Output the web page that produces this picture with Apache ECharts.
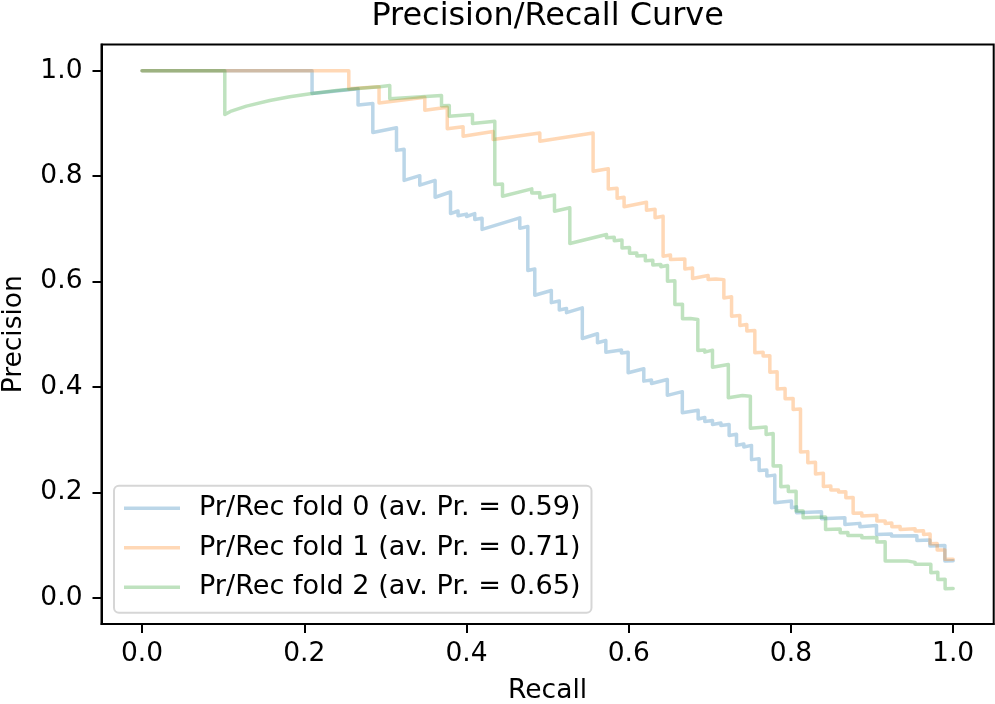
<!DOCTYPE html>
<html><head><meta charset="utf-8">
<script src="https://cdn.jsdelivr.net/npm/echarts@6/dist/echarts.min.js"></script>
<style>html,body{margin:0;padding:0;background:#fff}#c{width:995px;height:704px}</style>
</head><body><div id="c"></div>
<script>
const recall0 = [0, 0.2096,0.2096, 0.2663,0.2663, 0.2845,0.2845, 0.3137,0.3137, 0.3231,0.3231, 0.3424,0.3424, 0.3613,0.3613, 0.3803,0.3803, 0.3896,0.3896, 0.4000,0.4000, 0.4102,0.4102, 0.4192,0.4192, 0.4657,0.4657, 0.4756,0.4756, 0.4842,0.4842, 0.5046,0.5046, 0.5144,0.5144, 0.5233,0.5233, 0.5428,0.5428, 0.5615,0.5615, 0.5718,0.5718, 0.5911,0.5911, 0.5993,0.5993, 0.6186,0.6186, 0.6281,0.6281, 0.6476,0.6476, 0.6661,0.6661, 0.6856,0.6856, 0.6938,0.6938, 0.7033,0.7033, 0.7136,0.7136, 0.7238,0.7238, 0.7329,0.7329, 0.7419,0.7419, 0.7514,0.7514, 0.7608,0.7608, 0.7703,0.7703, 0.7801,0.7801, 0.8007,0.8007, 0.8069,0.8069, 0.8377,0.8377, 0.8665,0.8665, 0.8850,0.8850, 0.9055,0.9055, 0.9240,0.9240, 0.9553,0.9553, 0.9713,0.9713, 0.9898,0.9898, 1.0];
const precision0 = [1.0, 1.0,0.957, 0.966,0.935, 0.938,0.883, 0.892,0.849, 0.851,0.792, 0.801,0.783, 0.792,0.760, 0.770,0.729, 0.734,0.725, 0.728,0.7235, 0.729,0.718, 0.720,0.699, 0.721,0.701, 0.7045,0.621, 0.624,0.574, 0.583,0.560, 0.563,0.546, 0.549,0.541, 0.550,0.492, 0.501,0.484, 0.488,0.466, 0.470,0.4645, 0.466,0.427, 0.4345,0.411, 0.413,0.4066, 0.414,0.384, 0.391,0.351, 0.3558,0.339, 0.342,0.3345, 0.3364,0.3288, 0.3317,0.327, 0.3288,0.308, 0.310,0.289, 0.2918,0.286, 0.289,0.262, 0.2638,0.2416, 0.2421,0.2307, 0.2326,0.180, 0.1833,0.1708, 0.1723,0.1613, 0.163,0.150, 0.1518,0.139, 0.141,0.1347, 0.137,0.120, 0.1207,0.1169, 0.1173,0.1087, 0.1095,0.0979, 0.0992,0.0695, 0.0700];

const recall1 = [0, 0.2549,0.2549, 0.2922,0.2922, 0.3486,0.3486, 0.3763,0.3763, 0.3958,0.3958, 0.4328,0.4328, 0.4904,0.4904, 0.5561,0.5561, 0.5748,0.5748, 0.5857,0.5857, 0.5943,0.5943, 0.6219,0.6219, 0.6325,0.6325, 0.6424,0.6424, 0.6515,0.6515, 0.6692,0.6692, 0.6787,0.6787, 0.6979,0.6979, 0.7074,0.7074, 0.7173,0.7173, 0.7268,0.7268, 0.7370,0.7370, 0.7456,0.7456, 0.7555,0.7555, 0.7657,0.7657, 0.7740,0.7740, 0.7830,0.7830, 0.7928,0.7928, 0.8027,0.8027, 0.8118,0.8118, 0.8208,0.8208, 0.8303,0.8303, 0.8400,0.8400, 0.8492,0.8492, 0.8587,0.8587, 0.8677,0.8677, 0.8767,0.8767, 0.8874,0.8874, 0.9059,0.9059, 0.9162,0.9162, 0.9244,0.9244, 0.9346,0.9346, 0.9531,0.9531, 0.9635,0.9635, 0.9716,0.9716, 0.9803,0.9803, 0.9898,0.9898, 1.0];
const precision1 = [1.0, 1.0,0.966, 0.970,0.939, 0.950,0.925, 0.931,0.890, 0.894,0.876, 0.885,0.8697, 0.882,0.8664, 0.882,0.8095, 0.814,0.7757, 0.777,0.758, 0.760,0.742, 0.7507,0.7355, 0.7374,0.721, 0.724,0.648, 0.6505,0.642, 0.643,0.624, 0.6257,0.606, 0.6116,0.604, 0.605,0.602, 0.6037,0.569, 0.571,0.534, 0.5357,0.5167, 0.5186,0.506, 0.507,0.465, 0.466,0.4585, 0.4594,0.428, 0.4288,0.396, 0.397,0.3776, 0.3782,0.3573, 0.3579,0.2763, 0.2772,0.2562, 0.2568,0.2349, 0.2362,0.2112, 0.2118,0.2042, 0.2045,0.2004, 0.2011,0.1898, 0.1903,0.160, 0.1605,0.1548, 0.1562,0.1453, 0.1457,0.141, 0.1416,0.1347, 0.1353,0.1296, 0.1306,0.1264, 0.1268,0.1201, 0.1208,0.1025, 0.103,0.0903, 0.0907,0.0727, 0.073];

const recall2 = [0, 0.102,0.102, 0.109, 0.1287, 0.1575, 0.1821, 0.2096, 0.2397, 0.2663, 0.2931, 0.3054,0.3054, 0.3692,0.3692, 0.3788,0.3788, 0.4074,0.4074, 0.4349,0.4349, 0.4444,0.4444, 0.4805,0.4805, 0.4904,0.4904, 0.5085,0.5085, 0.5274,0.5274, 0.5726,0.5726, 0.5822,0.5822, 0.5917,0.5917, 0.6010,0.6010, 0.6100,0.6100, 0.6205,0.6205, 0.6297,0.6297, 0.6396,0.6396, 0.6478,0.6478, 0.6569,0.6569, 0.6663,0.6663, 0.6762,0.6762, 0.6852,0.6852, 0.6938,0.6938, 0.7033,0.7033, 0.7228,0.7228, 0.7403,0.7403, 0.7500,0.7500, 0.7694,0.7694, 0.7781,0.7781, 0.7875,0.7875, 0.7968,0.7968, 0.8064,0.8064, 0.8150,0.8150, 0.8427,0.8427, 0.8607,0.8607, 0.8702,0.8702, 0.8874,0.8874, 0.9059,0.9059, 0.9162,0.9162, 0.9429,0.9429, 0.9531,0.9531, 0.9725,0.9725, 0.9811,0.9811, 0.9901,0.9901, 1.0];
const precision2 = [1.0, 1.0,0.917, 0.923, 0.933, 0.9437, 0.9507, 0.957, 0.9626, 0.9664, 0.9696, 0.972,0.9469, 0.9531,0.9336, 0.9342,0.9137, 0.917,0.900, 0.9044,0.7843, 0.7852,0.762, 0.776,0.768, 0.7686,0.759, 0.7643,0.7336, 0.740,0.6723, 0.6894,0.6831, 0.684,0.6776, 0.679,0.6638, 0.6647,0.6537, 0.654,0.6486, 0.6496,0.6397, 0.6404,0.6315, 0.6325,0.628, 0.6305,0.6008, 0.6015,0.5566, 0.5571,0.5294, 0.530,0.5268, 0.5281,0.4693, 0.4702,0.466, 0.4698,0.4374, 0.4427,0.3795, 0.3839,0.3814, 0.3825,0.3216, 0.3241,0.3099, 0.3118,0.2501, 0.2505,0.2106, 0.2114,0.2013, 0.2018,0.1643, 0.1647,0.1518, 0.1533,0.1296, 0.1305,0.1233, 0.1239,0.1178, 0.1182,0.1139, 0.1144,0.1055, 0.1059,0.0695, 0.0698,0.0664, 0.067,0.0632, 0.0636,0.0474, 0.048,0.0347, 0.0351,0.0171, 0.0173];

const seriesNames = ['Pr/Rec fold 0 (av. Pr. = 0.59)', 'Pr/Rec fold 1 (av. Pr. = 0.71)', 'Pr/Rec fold 2 (av. Pr. = 0.65)'];
const tickValues = [0, 0.2, 0.4, 0.6, 0.8, 1.0];
const titleText = 'Precision/Recall Curve';
const xName = 'Recall';
const yName = 'Precision';

const colors = ['rgba(31,119,180,0.3)', 'rgba(255,127,14,0.3)', 'rgba(44,160,44,0.3)'];
const FONT = 'DejaVu Sans';
const FS = 26.5;
function zip(r, p) { return r.map((v, i) => [v, p[i]]); }
const recalls = [recall0, recall1, recall2];
const precisions = [precision0, precision1, precision2];

const chart = echarts.init(document.getElementById('c'), null, {renderer: 'canvas'});
const axisCommon = {
  type: 'value', min: -0.05, max: 1.05,
  splitLine: {show: false},
  axisLine: {show: true, onZero: false, lineStyle: {color: '#000', width: 2}},
  axisTick: {show: true, length: 9, lineStyle: {color: '#000', width: 2}, customValues: tickValues},
  axisLabel: {customValues: tickValues, color: '#000', fontSize: FS, fontFamily: FONT, formatter: v => v.toFixed(1)},
  nameLocation: 'middle',
  nameTextStyle: {color: '#000', fontSize: FS, fontFamily: FONT}
};
chart.setOption({
  animation: false,
  backgroundColor: '#fff',
  title: {text: titleText, left: 547.6, textAlign: 'center', top: 1, padding: 0,
    textStyle: {color: '#000', fontSize: 31.9, fontWeight: 'normal', fontFamily: FONT}},
  grid: {left: 101.5, top: 44.5, width: 892.2, height: 579.5, show: true, borderColor: '#000', borderWidth: 2,
    backgroundColor: 'transparent', containLabel: false, outerBoundsMode: 'none'},
  xAxis: Object.assign({}, axisCommon, {name: xName, nameGap: 54,
    axisLabel: Object.assign({}, axisCommon.axisLabel, {margin: 17})}),
  yAxis: Object.assign({}, axisCommon, {name: yName, nameGap: 74,
    axisLabel: Object.assign({}, axisCommon.axisLabel, {margin: 19})}),
  legend: {
    orient: 'vertical', left: 114, top: 485.7,
    padding: [9, 11, 12, 10],
    icon: 'rect',
    itemWidth: 56, itemHeight: 3.5, itemGap: 12.5,
    backgroundColor: 'rgba(255,255,255,0.8)',
    borderColor: '#d6d6d6', borderWidth: 2, borderRadius: 5,
    textStyle: {color: '#000', fontSize: 27.1, fontFamily: FONT, lineHeight: 26, padding: [0, 0, 0, 14]},
    data: seriesNames
  },
  series: seriesNames.map((n, i) => ({
    name: n, type: 'line', symbol: 'none', showSymbol: false,
    data: zip(recalls[i], precisions[i]),
    lineStyle: {color: colors[i], width: 3.5, join: 'round', cap: 'round'},
    itemStyle: {color: colors[i]},
    z: 2 + i
  }))
});
</script>
</body></html>
